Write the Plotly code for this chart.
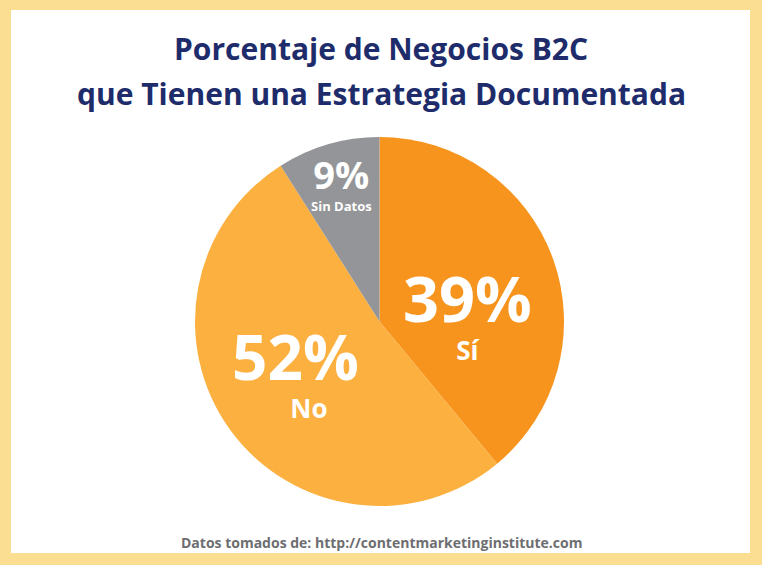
import plotly.graph_objects as go

W, H = 762, 565

labels = ["Sí", "No", "Sin Datos"]
values = [39, 52, 9]
colors = ["#F7941D", "#FBB040", "#939598"]

title_lines = ["Porcentaje de Negocios B2C", "que Tienen una Estrategia Documentada"]
source_text = "Datos tomados de: http://contentmarketinginstitute.com"

NAVY = "#1E2C6B"
FONT = "Open Sans"


def px(x):
    return x / W


def py(y):
    return 1 - y / H


fig = go.Figure(
    go.Pie(
        labels=labels,
        values=values,
        sort=False,
        direction="clockwise",
        rotation=0,
        marker=dict(colors=colors, line=dict(width=0)),
        textinfo="none",
        hoverinfo="label+percent",
        domain=dict(x=[px(195), px(564)], y=[py(506), py(137)]),
        showlegend=False,
    )
)

annotations = []
# Title lines
for text, yc in zip(title_lines, [48, 93]):
    annotations.append(dict(text=text, x=px(381), y=py(yc), xref="paper", yref="paper",
                            showarrow=False, xanchor="center", yanchor="middle",
                            font=dict(family=FONT, size=30, color=NAVY, weight=700)))

# Slice labels: big percentage over the category name
total = sum(values)
label_style = {
    # center (px), base size (line spacing), big size, small size, left pad
    "Sí": ((467, 311), 29, 63, 26, 0),
    "No": ((295, 370), 29, 62, 26, 4),
    "Sin Datos": ((341, 181), 17, 38, 13, 0),
}
for lab, val in zip(labels, values):
    (cx, cy), base, big, small, pad = label_style[lab]
    pct = round(100 * val / total)
    text = (f'<span style="font-size:{big}px">{pct}%</span><br>'
            f'<span style="font-size:{small}px">{"&nbsp;" * pad}{lab}</span>')
    annotations.append(dict(text=text, x=px(cx), y=py(cy), xref="paper", yref="paper",
                            showarrow=False, xanchor="center", yanchor="middle", align="center",
                            font=dict(family=FONT, size=base, color="white", weight=700)))

annotations.append(dict(text=source_text, x=px(381), y=py(542), xref="paper", yref="paper",
                        showarrow=False, xanchor="center", yanchor="middle",
                        font=dict(family=FONT, size=14, color="#6D6E71", weight=700)))

fig.update_layout(
    width=W,
    height=H,
    margin=dict(l=0, r=0, t=0, b=0),
    paper_bgcolor="#FCDE93",
    plot_bgcolor="white",
    shapes=[dict(type="rect", xref="paper", yref="paper",
                 x0=px(11), x1=px(750), y0=py(553), y1=py(10),
                 fillcolor="white", line=dict(width=0), layer="below")],
    annotations=annotations,
)

fig.write_html("out.html", config={"displayModeBar": False},
               post_script="document.body.style.margin='0';document.body.style.overflow='hidden';")
